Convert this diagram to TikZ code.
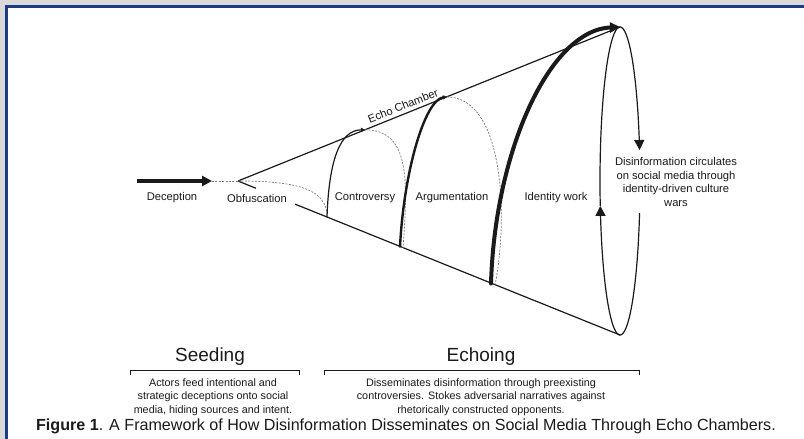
\documentclass[tikz,border=0pt]{standalone}
\usepackage{fontspec}
\setmainfont{Liberation Sans}
\usetikzlibrary{arrows.meta}
\definecolor{framenavy}{HTML}{1C3C82}
\definecolor{framegray}{HTML}{D9D9D9}
\definecolor{backline}{HTML}{7A7A7A}
\definecolor{ink}{HTML}{1A1A1A}
\begin{document}
\begin{tikzpicture}[x=1pt,y=-1pt,
  coneline/.style={draw=ink,line width=1.2pt},
  stagearc/.style={draw=ink,line cap=round},
  backarc/.style={draw=backline,line width=0.7pt,dash pattern=on 2pt off 1.4pt},
  bigtip/.style={-{Triangle[length=10pt,width=10pt]}},
  smalltip/.style={-{Triangle[length=4pt,width=4pt]}},
  lbl/.style={text=ink,font=\fontsize{11.2}{13.5}\selectfont,inner sep=0pt},
  phase/.style={text=ink,font=\fontsize{19}{22}\selectfont,inner sep=0pt},
  desc/.style={text=ink,font=\fontsize{10.8}{13.4}\selectfont,inner sep=0pt,align=center},
  bracket/.style={draw=ink,line width=0.8pt}]
\useasboundingbox (0,0) rectangle (804,439);
% page frame
\fill[white] (0,0) rectangle (804,439);
\fill[framegray] (0,0) rectangle (804,5);
\fill[framegray] (0,0) rectangle (5,439);
\fill[framenavy] (5,5) rectangle (804,7.5);
\fill[framenavy] (5,5) rectangle (7.5,439);

% cone geometry
\coordinate (apex) at (238,181);
\coordinate (rimtop) at (620,27);
\coordinate (rimbot) at (620,335);
\coordinate (lowstub) at (256,188.3);
\coordinate (lowstart) at (295,204.1);
\coordinate (b1) at (327,217);
\coordinate (p1) at (365,129.8);
\coordinate (b2) at (400,246.6);
\coordinate (p2) at (447,96.8);
\coordinate (b2back) at (403,247.8);
\coordinate (b3) at (491,283.5);
\coordinate (b3back) at (495,285.1);
\coordinate (decstart) at (137,181);
\coordinate (dectip) at (212,181);

% deception arrow into the cone
\draw[draw=ink,line width=4pt,bigtip] (decstart) -- (dectip);
\draw[backarc] (dectip) -- (apex);

% cone sides
\draw[coneline] (apex) -- (rimtop);
\draw[coneline] (apex) -- (lowstub);
\draw[coneline] (lowstart) -- (rimbot);

% hidden back halves of the stages
\draw[backarc] (apex) .. controls (300,181) and (327,190) .. (b1);
\draw[backarc] (p1) .. controls (410,130) and (408,180) .. (b2back);
\draw[backarc] (p2) .. controls (505,98) and (508,220) .. (b3back);

% front halves of the stages
\draw[stagearc,line width=1.2pt,smalltip] (b1) .. controls (329,160) and (340,130) .. (p1);
\draw[stagearc,line width=2.4pt,smalltip] (b2) .. controls (404,170) and (425,100) .. (p2);
\draw[stagearc,line width=4pt,bigtip] (b3) .. controls (495,150) and (550,30) .. (rimtop);

% rim of the cone: circulation loop
\draw[draw=ink,line width=1.2pt,bigtip] plot[domain=90:11.6,samples=40,smooth] ({620+20*cos(\x)},{181-154*sin(\x)});
\draw[draw=ink,line width=1.2pt] plot[domain=-12:-90,samples=40,smooth] ({620+20*cos(\x)},{181-154*sin(\x)});
\draw[draw=ink,line width=1.2pt,bigtip] plot[domain=270:189.3,samples=40,smooth] ({620+20*cos(\x)},{181-154*sin(\x)});
\draw[draw=ink,line width=1.2pt] plot[domain=189.3:90,samples=50,smooth] ({620+20*cos(\x)},{181-154*sin(\x)});

% stage labels
\node[lbl] (deception) at (172,198) {Deception};
\node[lbl] (obfuscation) at (257,198) {Obfuscation};
\node[lbl] (controversy) at (365,198) {Controversy};
\node[lbl] (argumentation) at (452,198) {Argumentation};
\node[lbl] (identity) at (556,198) {Identity work};
\node[lbl,rotate=22] (echo) at (403,106) {Echo Chamber};
\node[lbl,align=center] (circulates) at (676,182) {Disinformation circulates\\on social media through\\identity-driven culture\\wars};

% phases
\node[phase] (seeding) at (210,357) {Seeding};
\node[phase] (echoing) at (481,357) {Echoing};
\coordinate (sl) at (130,370);
\coordinate (sr) at (299,370);
\coordinate (el) at (324,370);
\coordinate (er) at (639,370);
\draw[bracket] ([yshift=-5pt]sl) -- (sl) -- (sr) -- ([yshift=-5pt]sr);
\draw[bracket] ([yshift=-5pt]el) -- (el) -- (er) -- ([yshift=-5pt]er);
\node[desc] (seeddesc) at (213,397) {Actors feed intentional and\\strategic deceptions onto social\\media, hiding sources and intent.};
\node[desc] (echodesc) at (481,397) {Disseminates disinformation through preexisting\\controversies. Stokes adversarial narratives against\\rhetorically constructed opponents.};

% caption
\node[text=ink,font=\fontsize{16.1}{19}\selectfont,inner sep=0pt,anchor=base] (caption) at (406,430) {\textbf{Figure 1}. A Framework of How Disinformation Disseminates on Social Media Through Echo Chambers.};
\end{tikzpicture}
\end{document}
